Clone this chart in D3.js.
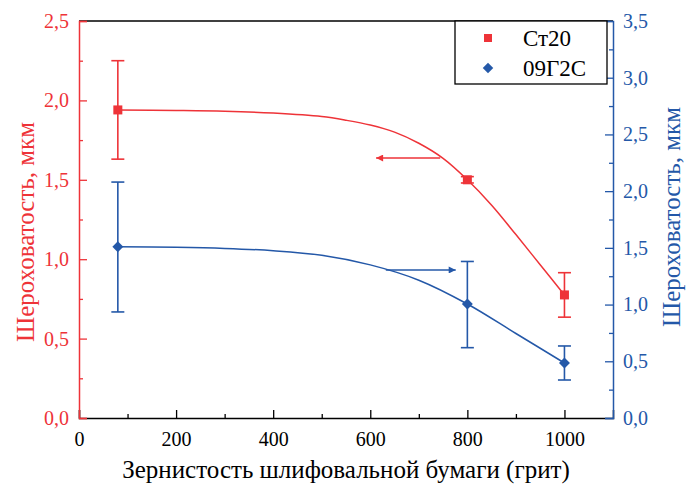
<!DOCTYPE html>
<html><head><meta charset="utf-8">
<script src="https://cdn.jsdelivr.net/npm/d3@7"></script>
</head><body style="margin:0;background:#fff">
<script>
// grit values of measured points
const grit = [80, 800, 1000];
// Ст20 (left axis)
const st20 = [1.94, 1.50, 0.775];
const st20Lo = [1.63, 1.48, 0.635];
const st20Hi = [2.25, 1.52, 0.915];
// 09Г2С (right axis)
const g09 = [1.51, 1.005, 0.485];
const g09Lo = [0.935, 0.62, 0.335];
const g09Hi = [2.08, 1.38, 0.635];
// fitted trend curves
const st20FitX = [80, 200, 300, 400, 500, 550, 600, 650, 700, 750, 800, 850, 900, 950, 1000];
const st20FitY = [1.94, 1.937, 1.932, 1.92, 1.898, 1.875, 1.845, 1.80, 1.73, 1.635, 1.50, 1.34, 1.155, 0.965, 0.775];
const g09FitX = [80, 200, 300, 400, 500, 600, 700, 800, 900, 1000];
const g09FitY = [1.51, 1.505, 1.495, 1.475, 1.435, 1.35, 1.215, 1.005, 0.745, 0.485];
// arrows: [y, x from, x to]
const st20Arrow = [1.637, 744, 612];
const g09Arrow = [1.305, 632, 776];
const xTicks = [0, 200, 400, 600, 800, 1000];
const leftTicks = [0, 0.5, 1.0, 1.5, 2.0, 2.5];
const rightTicks = [0, 0.5, 1.0, 1.5, 2.0, 2.5, 3.0, 3.5];
const legendNames = ["Ст20", "09Г2С"];

const W = 686, H = 486;
const m = {l: 79, r: 613, t: 21, b: 418};
const RED = "#ee3338", BLUE = "#2458a8";
const svg = d3.select("body").append("svg").attr("width", W).attr("height", H).style("display", "block")
  .style("font-family", "'Liberation Serif', 'Times New Roman', serif");
const x = d3.scaleLinear().domain([0, 1100]).range([m.l, m.r]);
const yL = d3.scaleLinear().domain([0, 2.5]).range([m.b, m.t]);
const yR = d3.scaleLinear().domain([0, 3.5]).range([m.b, m.t]);
const fmt = d => d3.format(".1f")(d).replace(".", ",");

// frame top
svg.append("line").attr("x1", m.l).attr("x2", m.r).attr("y1", m.t).attr("y2", m.t).attr("stroke", "#000").attr("stroke-width", 1.3);

function styleAxis(g, color, size) {
  g.attr("font-family", null).attr("font-size", size);
  g.select(".domain").attr("stroke", color).attr("stroke-width", 1.5);
  g.selectAll(".tick line").attr("stroke", color).attr("stroke-width", 1.3);
  g.selectAll("text").attr("fill", color);
}

// x axis
const gx = svg.append("g").attr("transform", `translate(0,${m.b})`)
  .call(d3.axisBottom(x).tickValues(xTicks).tickSize(-8).tickPadding(14).tickFormat(d3.format("d")));
styleAxis(gx, "#000", 20);
svg.append("g").attr("transform", `translate(0,${m.b})`)
  .call(d3.axisBottom(x).tickValues([100, 300, 500, 700, 900]).tickSize(-4).tickFormat(""))
  .call(g => g.select(".domain").remove())
  .selectAll(".tick line").attr("stroke", "#000").attr("stroke-width", 1.3);

// left axis
const gl = svg.append("g").attr("transform", `translate(${m.l},0)`)
  .call(d3.axisLeft(yL).tickValues(leftTicks).tickSize(-8).tickPadding(10).tickFormat(fmt));
styleAxis(gl, RED, 20);
svg.append("g").attr("transform", `translate(${m.l},0)`)
  .call(d3.axisLeft(yL).tickValues([0.25, 0.75, 1.25, 1.75, 2.25]).tickSize(-4).tickFormat(""))
  .call(g => g.select(".domain").remove())
  .selectAll(".tick line").attr("stroke", RED).attr("stroke-width", 1.3);

// right axis
const gr = svg.append("g").attr("transform", `translate(${m.r},0)`)
  .call(d3.axisRight(yR).tickValues(rightTicks).tickSize(-8).tickPadding(10).tickFormat(fmt));
styleAxis(gr, BLUE, 20);
svg.append("g").attr("transform", `translate(${m.r},0)`)
  .call(d3.axisRight(yR).tickValues([0.25, 0.75, 1.25, 1.75, 2.25, 2.75, 3.25]).tickSize(-4).tickFormat(""))
  .call(g => g.select(".domain").remove())
  .selectAll(".tick line").attr("stroke", BLUE).attr("stroke-width", 1.3);

// titles
svg.append("text").attr("transform", `translate(34,${232}) rotate(-90)`)
  .attr("text-anchor", "middle").attr("font-size", 25).attr("fill", RED).text("Шероховатость, мкм");
svg.append("text").attr("transform", `translate(680,${217}) rotate(-90)`)
  .attr("text-anchor", "middle").attr("font-size", 25).attr("fill", BLUE).text("Шероховатость, мкм");
svg.append("text").attr("x", 346).attr("y", 478).attr("text-anchor", "middle").attr("font-size", 25)
  .attr("fill", "#000").text("Зернистость шлифовальной бумаги (грит)");

// curves
const lineL = d3.line().x(d => x(d[0])).y(d => yL(d[1])).curve(d3.curveCatmullRom.alpha(0.5));
const lineR = d3.line().x(d => x(d[0])).y(d => yR(d[1])).curve(d3.curveCatmullRom.alpha(0.5));
svg.append("path").attr("d", lineL(d3.zip(st20FitX, st20FitY))).attr("fill", "none").attr("stroke", RED).attr("stroke-width", 1.5);
svg.append("path").attr("d", lineR(d3.zip(g09FitX, g09FitY))).attr("fill", "none").attr("stroke", BLUE).attr("stroke-width", 1.5);

// arrows
const defs = svg.append("defs");
[["ar", RED], ["ab", BLUE]].forEach(([id, c]) => {
  defs.append("marker").attr("id", id).attr("viewBox", "0 0 10 10").attr("refX", 10).attr("refY", 5)
    .attr("markerWidth", 13).attr("markerHeight", 7).attr("markerUnits", "userSpaceOnUse").attr("orient", "auto")
    .append("path").attr("d", "M0,0 L10,5 L0,10 Z").attr("fill", c);
});
svg.append("line").attr("x1", x(st20Arrow[1])).attr("x2", x(st20Arrow[2])).attr("y1", yL(st20Arrow[0])).attr("y2", yL(st20Arrow[0]))
  .attr("stroke", RED).attr("stroke-width", 1.5).attr("marker-end", "url(#ar)");
svg.append("line").attr("x1", x(g09Arrow[1])).attr("x2", x(g09Arrow[2])).attr("y1", yR(g09Arrow[0])).attr("y2", yR(g09Arrow[0]))
  .attr("stroke", BLUE).attr("stroke-width", 1.5).attr("marker-end", "url(#ab)");

// error bars
function errBars(lo, hi, y, c) {
  const g = svg.append("g").attr("stroke", c).attr("stroke-width", 1.6);
  grit.forEach((gv, i) => {
    const cx = x(gv);
    g.append("line").attr("x1", cx).attr("x2", cx).attr("y1", y(lo[i])).attr("y2", y(hi[i]));
    [lo[i], hi[i]].forEach(v => g.append("line").attr("x1", cx - 6.5).attr("x2", cx + 6.5).attr("y1", y(v)).attr("y2", y(v)));
  });
}
errBars(st20Lo, st20Hi, yL, RED);
errBars(g09Lo, g09Hi, yR, BLUE);

// markers
svg.append("g").selectAll("rect").data(grit).join("rect")
  .attr("x", (d) => x(d) - 4.5).attr("y", (d, i) => yL(st20[i]) - 4.5).attr("width", 9).attr("height", 9).attr("fill", RED);
svg.append("g").selectAll("path").data(grit).join("path")
  .attr("transform", (d, i) => `translate(${x(d)},${yR(g09[i])}) rotate(45)`)
  .attr("d", d3.symbol().type(d3.symbolSquare).size(60)).attr("fill", BLUE);

// legend
const lg = svg.append("g");
lg.append("rect").attr("x", 455).attr("y", m.t).attr("width", 152).attr("height", 63)
  .attr("fill", "#fff").attr("stroke", "#000").attr("stroke-width", 1.3);
lg.append("rect").attr("x", 484).attr("y", 34).attr("width", 8).attr("height", 8).attr("fill", RED);
lg.append("path").attr("transform", "translate(488,68) rotate(45)").attr("d", d3.symbol().type(d3.symbolSquare).size(55)).attr("fill", BLUE);
lg.selectAll("text").data(legendNames).join("text").attr("x", 523).attr("y", (d, i) => 46 + i * 30)
  .attr("font-size", 23).attr("fill", "#000").text(d => d);
</script></body></html>
